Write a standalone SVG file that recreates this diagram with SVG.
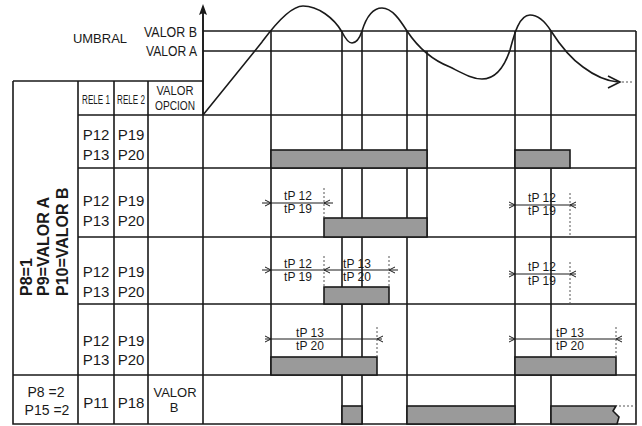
<svg xmlns="http://www.w3.org/2000/svg" width="642" height="426" viewBox="0 0 642 426">
<style>
.ln{stroke:#1a1a1a;stroke-width:1.6;fill:none}
.thin{stroke:#1a1a1a;stroke-width:1;fill:none}
.dot{stroke:#555;stroke-width:1;stroke-dasharray:2,2;fill:none}
.bar{fill:#9a9a9a;stroke:#1a1a1a;stroke-width:1.6}
.t{font-family:"Liberation Sans",Arial,sans-serif;fill:#1a1a1a}
.p{font-size:15px;text-anchor:middle}
.h{font-size:12px;text-anchor:middle}
.d{font-size:12px;text-anchor:middle}
.b{font-size:16px;font-weight:bold}
</style>
<rect width="642" height="426" fill="#fff"/>
<g id="table">
<path class="ln" d="M13,81 H203 M13,81 V424 H636 V31 M78,81 V424 M114,81 V424 M148,81 V424 M203,12 V424 M78,115 H636 M78,168 H636 M78,237 H636 M78,304 H636 M13,375 H636"/>
</g>
<g id="thresholds">
<path class="ln" d="M203,31 H636 M203,51 H636"/>
<text class="t" x="100" y="43" font-size="13" text-anchor="middle">UMBRAL</text>
<text class="t" x="197" y="37" font-size="15" text-anchor="end" textLength="53" lengthAdjust="spacingAndGlyphs">VALOR B</text>
<text class="t" x="197" y="56" font-size="15" text-anchor="end" textLength="51" lengthAdjust="spacingAndGlyphs">VALOR A</text>
</g>
<g id="axis">
<path class="ln" d="M203,115 V12"/>
<path d="M203,4 L207,15 L203,13 L199,15 Z" fill="#1a1a1a"/>
</g>
<g id="connectors">
<path class="ln" d="M271,31 V375 M342,31 V424 M362,31 V424 M407,31 V424 M427,51 V237 M515,31 V424 M551,31 V424"/>
</g>
<g id="curve">
<path class="ln" d="M203,115 L262,42 C268,34 288,6 303,6 C318,6 334,18 342,32 C345,38 348,43 352,43 C357,43 360,37 362,31 C366,18 372,8 382,8 C392,8 400,20 407,31 C417,46 432,60 450,67 C462,73 472,79 482,79 C495,79 504,68 510,50 C514,35 519,15 530,15 C539,15 546,23 551,31 C560,45 570,58 583,67 C595,76 605,81 618,82"/>
<polyline class="ln" points="608,76 620,82 608,88"/>
<path class="dot" d="M622,82 H634" stroke-width="1.5"/>
</g>
<g id="header">
<text class="t" font-size="9" text-anchor="middle" transform="translate(96,104) scale(0.9,1.35)">RELE 1</text>
<text class="t" font-size="9" text-anchor="middle" transform="translate(131,104) scale(0.9,1.35)">RELE 2</text>
<text class="t h" x="175" y="95" textLength="37" lengthAdjust="spacingAndGlyphs">VALOR</text>
<text class="t h" x="175" y="110" textLength="40" lengthAdjust="spacingAndGlyphs">OPCION</text>
</g>
<g id="leftlabel">
<g transform="translate(32,296) rotate(-90)"><text class="t b" x="0" y="0">P8=1</text></g>
<g transform="translate(49,296) rotate(-90)"><text class="t b" x="0" y="0">P9=VALOR A</text></g>
<g transform="translate(68,296) rotate(-90)"><text class="t b" x="0" y="0">P10=VALOR B</text></g>
</g>
<g id="row1">
<text class="t p" x="96" y="140">P12</text><text class="t p" x="131" y="140">P19</text>
<text class="t p" x="96" y="160">P13</text><text class="t p" x="131" y="160">P20</text>
<rect class="bar" x="271" y="150" width="156" height="18"/>
<rect class="bar" x="515" y="150" width="55" height="18"/>
</g>
<g id="row2">
<text class="t p" x="96" y="206">P12</text><text class="t p" x="131" y="206">P19</text>
<text class="t p" x="96" y="226">P13</text><text class="t p" x="131" y="226">P20</text>
<rect class="bar" x="324" y="218" width="103" height="19"/>
<path class="thin" d="M262,203 H333 M265,200 L271,203 L265,206 M330,200 L324,203 L330,206"/>
<path class="dot" d="M324,188 V218"/>
<text class="t d" x="298" y="200">tP 12</text><text class="t d" x="298" y="213">tP 19</text>
<path class="thin" d="M509,205 H576 M509,202 L515,205 L509,208 M576,202 L570,205 L576,208"/>
<path class="dot" d="M570,193 V237"/>
<text class="t d" x="542" y="202">tP 12</text><text class="t d" x="542" y="215">tP 19</text>
</g>
<g id="row3">
<text class="t p" x="96" y="277">P12</text><text class="t p" x="131" y="277">P19</text>
<text class="t p" x="96" y="297">P13</text><text class="t p" x="131" y="297">P20</text>
<rect class="bar" x="324" y="287" width="65" height="17"/>
<path class="thin" d="M262,270 H398 M265,267 L271,270 L265,273 M330,267 L324,270 L330,273 M395,267 L389,270 L395,273"/>
<path class="dot" d="M324,256 V287 M389,256 V287"/>
<text class="t d" x="298" y="268">tP 12</text><text class="t d" x="298" y="281">tP 19</text>
<text class="t d" x="357" y="268">tP 13</text><text class="t d" x="357" y="281">tP 20</text>
<path class="thin" d="M509,274 H576 M509,271 L515,274 L509,277 M576,271 L570,274 L576,277"/>
<path class="dot" d="M570,262 V304"/>
<text class="t d" x="542" y="271">tP 12</text><text class="t d" x="542" y="285">tP 19</text>
</g>
<g id="row4">
<text class="t p" x="96" y="346">P12</text><text class="t p" x="131" y="346">P19</text>
<text class="t p" x="96" y="365">P13</text><text class="t p" x="131" y="365">P20</text>
<rect class="bar" x="271" y="357" width="106" height="18"/>
<rect class="bar" x="515" y="357" width="101" height="18"/>
<path class="thin" d="M265,339 H382 M265,336 L271,339 L265,342 M383,336 L377,339 L383,342"/>
<path class="dot" d="M377,327 V357"/>
<text class="t d" x="310" y="337">tP 13</text><text class="t d" x="310" y="350">tP 20</text>
<path class="thin" d="M509,339 H622 M509,336 L515,339 L509,342 M622,336 L616,339 L622,342"/>
<path class="dot" d="M616,327 V357"/>
<text class="t d" x="570" y="337">tP 13</text><text class="t d" x="570" y="350">tP 20</text>
</g>
<g id="row5">
<text class="t" x="46" y="397" font-size="14" text-anchor="middle">P8 =2</text>
<text class="t" x="47" y="415" font-size="14" text-anchor="middle">P15 =2</text>
<text class="t p" x="96" y="408">P11</text><text class="t p" x="131" y="408">P18</text>
<text class="t" x="175" y="397" font-size="13" text-anchor="middle">VALOR</text>
<text class="t" x="174" y="412" font-size="13" text-anchor="middle">B</text>
<rect class="bar" x="342" y="406" width="20" height="18"/>
<rect class="bar" x="407" y="406" width="108" height="18"/>
<path class="bar" d="M551,406 H616 L613,411 L619,417 L617,424 H551 Z"/>
<path class="dot" d="M619,406 H636"/>
</g>
</svg>
